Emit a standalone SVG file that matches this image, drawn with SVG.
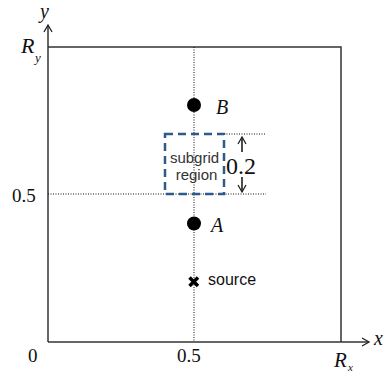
<svg xmlns="http://www.w3.org/2000/svg" width="388" height="374" viewBox="0 0 388 374">
<style>
.frame{fill:none;stroke:#333;stroke-width:1.5}
.dot{fill:none;stroke:#111;stroke-width:1;stroke-dasharray:1,1.5}
.lbl{font-family:"Liberation Serif",serif;fill:#111}
.it{font-style:italic}
.sans{font-family:"Liberation Sans",Arial,sans-serif;font-size:15px}
</style>
<defs>
<marker id="ah" markerWidth="10" markerHeight="10" refX="8" refY="5" orient="auto" markerUnits="userSpaceOnUse">
<path d="M1,1 L8,5 L1,9" fill="none" stroke="#222" stroke-width="1.3"/>
</marker>
</defs>
<rect width="388" height="374" fill="#fff"/>
<g id="connectors">
<line class="frame" x1="48" y1="342" x2="48" y2="25" marker-end="url(#ah)"/>
<line class="frame" x1="48" y1="342" x2="369" y2="342" marker-end="url(#ah)"/>
<polyline class="frame" points="48,47 341,47 341,342"/>
<line class="dot" x1="194" y1="47" x2="194" y2="342"/>
<line class="dot" x1="48" y1="194" x2="266" y2="194"/>
<line class="dot" x1="224" y1="134" x2="266" y2="134"/>
<line x1="242" y1="152" x2="242" y2="137" stroke="#111" stroke-width="1.5" marker-end="url(#ah)"/>
<line x1="242" y1="177" x2="242" y2="192" stroke="#111" stroke-width="1.5" marker-end="url(#ah)"/>
</g>
<g id="axes-labels">
<text class="lbl it" x="40" y="18" font-size="20">y</text>
<text class="lbl it" x="21" y="53" font-size="22">R</text>
<text class="lbl it" x="35" y="62" font-size="13">y</text>
<text class="lbl it" x="374" y="345" font-size="20">x</text>
<text class="lbl" x="28" y="362" font-size="19">0</text>
<text class="lbl" x="12" y="202" font-size="19">0.5</text>
<text class="lbl" x="177" y="362" font-size="19">0.5</text>
<text class="lbl it" x="334" y="367" font-size="21">R</text>
<text class="lbl it" x="348" y="371" font-size="11">x</text>
</g>
<g id="subgrid">
<rect x="165" y="134" width="59" height="60" fill="none" stroke="#2F5A8C" stroke-width="2.5" stroke-dasharray="8,5"/>
<text class="sans" x="194.5" y="163" text-anchor="middle" fill="#333">subgrid</text>
<text class="sans" x="196.5" y="180" text-anchor="middle" fill="#333">region</text>
<text class="lbl" x="226" y="174" font-size="24">0.2</text>
</g>
<g id="B">
<circle cx="194" cy="105" r="7" fill="#000"/>
<text class="lbl it" x="216" y="114" font-size="20">B</text>
</g>
<g id="A">
<circle cx="194" cy="223.5" r="7" fill="#000"/>
<text class="lbl it" x="211" y="232" font-size="20">A</text>
</g>
<g id="source">
<path d="M189.5,277.5 L198,286 M198,277.5 L189.5,286" stroke="#000" stroke-width="3.5"/>
<text class="sans" x="208" y="285" fill="#111" style="font-size:16px">source</text>
</g>
</svg>
